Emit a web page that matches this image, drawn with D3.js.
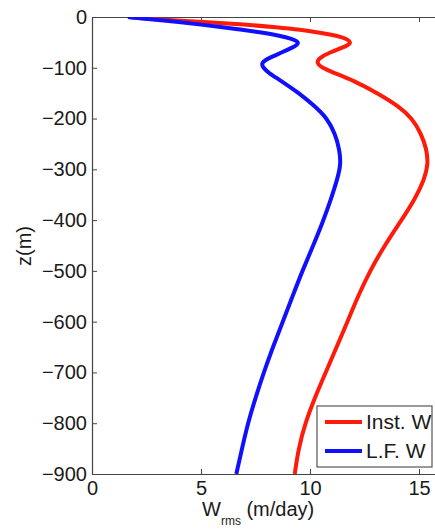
<!DOCTYPE html>
<html><head><meta charset="utf-8">
<script src="https://cdn.jsdelivr.net/npm/d3@7"></script>
<style>
body{margin:0;background:#fff}
svg{display:block}
text{font-family:"Liberation Sans",Arial,Helvetica,sans-serif;fill:#1a1a1a}
</style></head><body>
<script>
const depths = [0,-5,-10,-15,-20,-25,-30,-35,-40,-45,-50,-55,-60,-70,-80,-90,-100,-110,-125,-150,-175,-200,-230,-260,-290,-320,-360,-400,-450,-500,-550,-600,-650,-700,-750,-800,-850,-900];
const instW = [1.7,3.0,5.2,7.0,8.5,9.6,10.3,11.0,11.5,11.75,11.88,11.75,11.5,10.9,10.45,10.28,10.55,11.1,12.0,13.1,14.05,14.7,15.1,15.35,15.42,15.25,14.8,14.2,13.42,12.75,12.2,11.72,11.22,10.72,10.22,9.78,9.47,9.3];
const lfW   = [1.65,2.8,4.0,5.0,6.0,6.9,7.7,8.4,8.9,9.3,9.48,9.4,9.2,8.7,8.15,7.75,7.85,8.1,8.65,9.5,10.2,10.8,11.15,11.35,11.42,11.25,10.95,10.62,10.15,9.65,9.2,8.75,8.3,7.88,7.5,7.15,6.88,6.62];
const xTicks = [0,5,10,15];
const yTicks = [0,-100,-200,-300,-400,-500,-600,-700,-800,-900];
const seriesNames = ["Inst. W","L.F. W"];
const seriesColors = ["#ff1a0a","#1010ff"];

const W = 435, H = 529;
const svg = d3.select("body").append("svg").attr("width", W).attr("height", H);

const x = d3.scaleLinear().domain([0,16]).range([92, 92 + 16*21.8]);
const y = d3.scaleLinear().domain([0,-900]).range([17, 474]);
const [x0,x1] = x.range(), [y0,y1] = y.range();

svg.append("defs").append("clipPath").attr("id","clip")
  .append("rect").attr("x",x0).attr("y",y0).attr("width",x1-x0).attr("height",y1-y0);

// axes
const axColor = "#444";
const fs = 20;
const gB = svg.append("g").attr("transform",`translate(0,${y1})`)
  .call(d3.axisBottom(x).tickValues(xTicks).tickFormat(d3.format("d")).tickSizeInner(-5).tickSizeOuter(0).tickPadding(7));
const gT = svg.append("g").attr("transform",`translate(0,${y0})`)
  .call(d3.axisTop(x).tickValues(xTicks).tickFormat("").tickSizeInner(-5).tickSizeOuter(0));
const gL = svg.append("g").attr("transform",`translate(${x0},0)`)
  .call(d3.axisLeft(y).tickValues(yTicks).tickFormat(d3.format("d")).tickSizeInner(-5).tickSizeOuter(0).tickPadding(5));
const gR = svg.append("g").attr("transform",`translate(${x1},0)`)
  .call(d3.axisRight(y).tickValues(yTicks).tickFormat("").tickSizeInner(-5).tickSizeOuter(0));
[gB,gT,gL,gR].forEach(g=>{
  g.selectAll("path.domain").attr("stroke",axColor).attr("stroke-width",1.2);
  g.selectAll("line").attr("stroke",axColor);
  g.selectAll("text").attr("font-size",fs).attr("font-family",null).style("fill","#1a1a1a");
});
gB.selectAll("text").attr("dy","0.72em");

// lines
const pts = vals => depths.map((d,i)=>[vals[i], d]);
const line = d3.line().x(d=>x(d[0])).y(d=>y(d[1])).curve(d3.curveBasis);
const plot = svg.append("g").attr("clip-path","url(#clip)");
[instW, lfW].forEach((vals,i)=>{
  plot.append("path").datum(pts(vals)).attr("d",line)
    .attr("fill","none").attr("stroke",seriesColors[i]).attr("stroke-width",4)
    .attr("stroke-linejoin","round").attr("stroke-linecap","butt");
});

// axis labels
svg.append("text").attr("transform","translate(31,246) rotate(-90)")
  .attr("text-anchor","middle").attr("font-size",fs).text("z(m)");
const xl = svg.append("text").attr("x",202).attr("y",516).attr("font-size",fs);
xl.append("tspan").text("W");
xl.append("tspan").attr("font-size",12).attr("dy",9).text("rms");
xl.append("tspan").attr("dy",-9).text(" (m/day)");

// legend
const lg = svg.append("g");
lg.append("rect").attr("x",317).attr("y",406).attr("width",115).attr("height",61)
  .attr("fill","#fff").attr("stroke","#555").attr("stroke-width",1.2);
seriesNames.forEach((n,i)=>{
  const yy = 422 + i*29;
  lg.append("line").attr("x1",325).attr("x2",362).attr("y1",yy).attr("y2",yy)
    .attr("stroke",seriesColors[i]).attr("stroke-width",4);
  lg.append("text").attr("x",366).attr("y",yy+7).attr("font-size",21).text(n);
});
</script>
</body></html>
